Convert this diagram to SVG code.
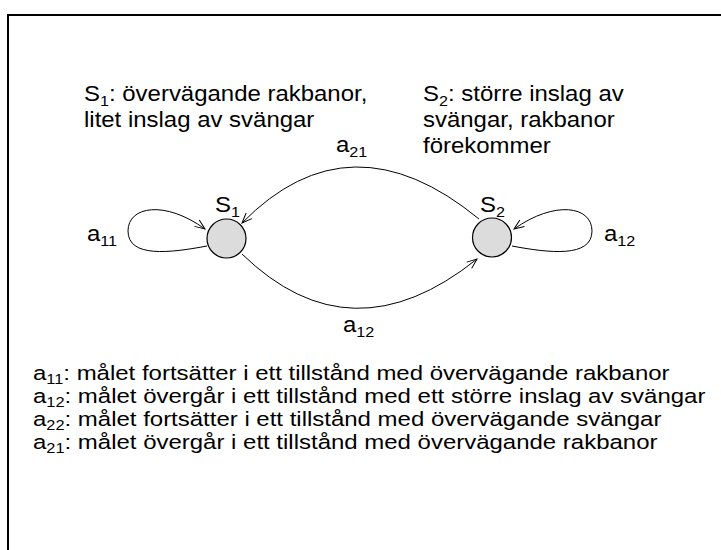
<svg xmlns="http://www.w3.org/2000/svg" width="721" height="550" viewBox="0 0 721 550">
  <style>
    text { font-family: "Liberation Sans", Arial, sans-serif; font-size: 21.5px; fill: #000; }
    .sub { font-size: 14.5px; }
    .legend text { font-size: 20.5px; }
    .legend .sub { font-size: 14px; }
    .state { fill: #dcdcdc; stroke: #000; stroke-width: 1.2; }
    .edge { fill: none; stroke: #000; stroke-width: 1; marker-end: url(#arrow); }
  </style>
  <defs>
    <marker id="arrow" markerWidth="12" markerHeight="10" refX="11" refY="5" orient="auto" markerUnits="userSpaceOnUse">
      <path d="M1,1 L11,5 L1,9" fill="none" stroke="#000" stroke-width="1"/>
    </marker>
  </defs>

  <!-- frame -->
  <rect x="8" y="15" width="730" height="560" fill="#fff" stroke="#000" stroke-width="2"/>

  <!-- state descriptions (text is set slightly wide) -->
  <g id="desc-s1">
    <text transform="translate(84 101) scale(1.115 1)">S<tspan class="sub" dy="5">1</tspan><tspan dy="-5">: övervägande rakbanor,</tspan></text>
    <text transform="translate(84 127) scale(1.115 1)">litet inslag av svängar</text>
  </g>
  <g id="desc-s2">
    <text transform="translate(423 101) scale(1.115 1)">S<tspan class="sub" dy="5">2</tspan><tspan dy="-5">: större inslag av</tspan></text>
    <text transform="translate(423 127) scale(1.115 1)">svängar, rakbanor</text>
    <text transform="translate(423 153) scale(1.115 1)">förekommer</text>
  </g>

  <!-- connectors -->
  <g id="connectors">
    <path class="edge" d="M207,246 C170,253 128,258 128,231 C128,206 165,200 205,229"/>
    <path class="edge" d="M512,246 C549,253 592,258 592,231 C592,206 555,200 514,229"/>
    <path class="edge" d="M479,219 Q350,113 242,223"/>
    <path class="edge" d="M242,254 Q351,360 477,259"/>
    <text transform="translate(336 152) scale(1.115 1)">a<tspan class="sub" dy="5">21</tspan></text>
    <text transform="translate(343 332) scale(1.115 1)">a<tspan class="sub" dy="5">12</tspan></text>
    <text transform="translate(87 241) scale(1.115 1)">a<tspan class="sub" dy="5">11</tspan></text>
    <text transform="translate(604 241) scale(1.115 1)">a<tspan class="sub" dy="5">12</tspan></text>
  </g>

  <!-- states -->
  <g id="s1">
    <circle class="state" cx="226.5" cy="238.5" r="19.5"/>
    <text transform="translate(215 212) scale(1.115 1)">S<tspan class="sub" dy="5">1</tspan></text>
  </g>
  <g id="s2">
    <circle class="state" cx="492" cy="237.5" r="19.5"/>
    <text transform="translate(480 212) scale(1.115 1)">S<tspan class="sub" dy="5">2</tspan></text>
  </g>

  <!-- legend -->
  <g id="legend" class="legend">
    <text transform="translate(33 380) scale(1.17 1)">a<tspan class="sub" dy="4">11</tspan><tspan dy="-4">: målet fortsätter i ett tillstånd med övervägande rakbanor</tspan></text>
    <text transform="translate(33 403) scale(1.17 1)">a<tspan class="sub" dy="4">12</tspan><tspan dy="-4">: målet övergår i ett tillstånd med ett större inslag av svängar</tspan></text>
    <text transform="translate(33 426) scale(1.17 1)">a<tspan class="sub" dy="4">22</tspan><tspan dy="-4">: målet fortsätter i ett tillstånd med övervägande svängar</tspan></text>
    <text transform="translate(33 449) scale(1.17 1)">a<tspan class="sub" dy="4">21</tspan><tspan dy="-4">: målet övergår i ett tillstånd med övervägande rakbanor</tspan></text>
  </g>
</svg>
